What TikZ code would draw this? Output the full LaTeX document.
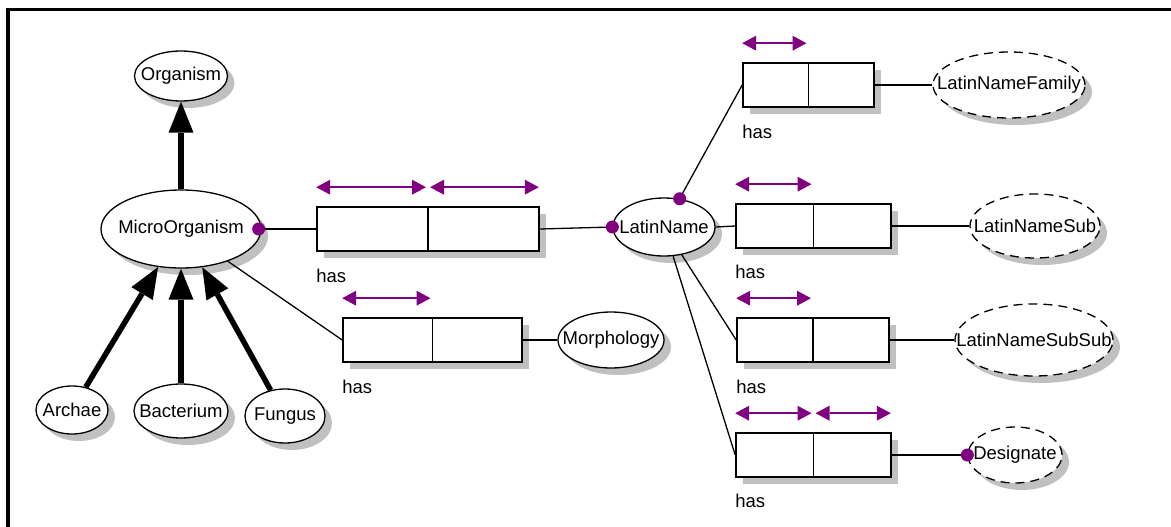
\documentclass[tikz,border=0pt]{standalone}
\usepackage{fontspec}
\setmainfont{Liberation Sans}
\usetikzlibrary{arrows.meta,shapes.geometric,shadows}
\definecolor{rolepurple}{HTML}{800080}
\definecolor{shadowgray}{HTML}{C0C0C0}
\begin{document}
\begin{tikzpicture}[x=1pt,y=-1pt,
  castshadow/.style={drop shadow={shadow xshift=7pt,shadow yshift=-7pt,fill=shadowgray,opacity=1}},
  entity/.style={ellipse,draw,line width=1.3pt,fill=white,inner sep=0pt,castshadow},
  valuetype/.style={entity,dash pattern=on 9pt off 6pt},
  rolebox/.style={rectangle,draw,line width=1.6pt,fill=white,inner sep=0pt,minimum height=44pt,castshadow},
  txt/.style={inner sep=0pt,font=\fontsize{18.5}{21}\selectfont},
  link/.style={line width=1.3pt},
  isa/.style={line width=5.5pt,-{Triangle[length=31pt,width=25pt,line width=0pt]}},
  rolespan/.style={rolepurple,line width=2pt,{Triangle[length=14pt,width=15pt,line width=0pt]}-{Triangle[length=14pt,width=15pt,line width=0pt]}},
  roledot/.style={circle,fill=rolepurple,inner sep=0pt,minimum size=13pt}
]
\useasboundingbox (0,0) rectangle (1171,527);

% window frame
\draw[line width=3.4pt] (8,527) -- (8,9.8) -- (1171,9.8);

% entity types
\node[entity,minimum width=93pt,minimum height=50pt] (org) at (181,76) {};
\node[entity,minimum width=160pt,minimum height=78pt] (micro) at (181,229) {};
\node[entity,minimum width=72pt,minimum height=48pt] (arch) at (72,410) {};
\node[entity,minimum width=94pt,minimum height=54pt] (bact) at (181,411) {};
\node[entity,minimum width=80pt,minimum height=54pt] (fung) at (285,416) {};
\node[entity,minimum width=106pt,minimum height=56pt] (morph) at (611,340) {};
\node[entity,minimum width=102pt,minimum height=58pt] (latin) at (664,227) {};

% value types
\node[valuetype,minimum width=152pt,minimum height=66pt] (fam) at (1009,85) {};
\node[valuetype,minimum width=130pt,minimum height=64pt] (sub) at (1035,226) {};
\node[valuetype,minimum width=158pt,minimum height=72pt] (subsub) at (1034,340) {};
\node[valuetype,minimum width=94pt,minimum height=56pt] (desig) at (1015,455) {};

% fact type boxes
\node[rolebox,minimum width=222pt] (b1) at (428,229) {};
\node[rolebox,minimum width=179pt] (b2) at (432.5,340) {};
\node[rolebox,minimum width=131pt] (b3) at (808.5,85) {};
\node[rolebox,minimum width=155pt] (b4) at (813.5,226) {};
\node[rolebox,minimum width=152pt] (b5) at (813,340) {};
\node[rolebox,minimum width=155pt] (b6) at (813.5,455) {};
\foreach \b in {b1,b2,b3,b4,b5,b6}
  \draw[line width=1.8pt] (\b.north) -- (\b.south);

% uniqueness constraints
\draw[rolespan] ([yshift=19pt]b1.north west) -- ([yshift=19pt,xshift=-2pt]b1.north);
\draw[rolespan] ([yshift=19pt,xshift=2pt]b1.north) -- ([yshift=19pt,xshift=-1pt]b1.north east);
\foreach \b in {b2,b3,b4,b5}
  \draw[rolespan] ([yshift=19pt]\b.north west) -- ([yshift=19pt,xshift=-2pt]\b.north);
\draw[rolespan] ([yshift=19pt]b6.north west) -- ([yshift=19pt,xshift=-2pt]b6.north);
\draw[rolespan] ([yshift=19pt,xshift=2pt]b6.north) -- ([yshift=19pt,xshift=-1pt]b6.north east);

% role connectors
\draw[link] (micro.east) -- (b1.west);
\draw[link] (b1.east) -- (latin.west);
\draw[link] (micro) -- (b2.west);
\draw[link] (b2.east) -- (morph.west);
\draw[link] (latin) -- (b3.west);
\draw[link] (latin.east) -- (b4.west);
\draw[link] (latin) -- (b5.west);
\draw[link] (latin) -- (b6.west);
\draw[link] (b3.east) -- (fam.west);
\draw[link] (b4.east) -- (sub.west);
\draw[link] (b5.east) -- (subsub.west);
\draw[link] (b6.east) -- (desig.west);

% mandatory role dots
\node[roledot] (d1) at ([xshift=-3pt]micro.east) {};
\node[roledot] (d2) at (latin.west) {};
\node[roledot] (d3) at (latin.61) {};
\node[roledot] (d4) at (desig.west) {};

% subtype arrows
\draw[isa] (micro) -- (org);
\draw[isa] (arch) -- (micro);
\draw[isa] (bact) -- (micro);
\draw[isa] (fung) -- (micro);

% names
\node[txt] (orgT) at (org) {Organism};
\node[txt] (microT) at (micro) {MicroOrganism};
\node[txt] (archT) at (arch) {Archae};
\node[txt] (bactT) at (bact) {Bacterium};
\node[txt] (fungT) at (fung) {Fungus};
\node[txt] (morphT) at (morph) {Morphology};
\node[txt] (latinT) at (latin) {LatinName};
\node[txt] (famT) at (fam) {LatinNameFamily};
\node[txt] (subT) at (sub) {LatinNameSub};
\node[txt] (subsubT) at (subsub) {LatinNameSubSub};
\node[txt] (desigT) at (desig) {Designate};

% fact type readings
\node[txt,anchor=west] (h1) at ([yshift=-24pt]b1.south west) {has};
\node[txt,anchor=west] (h2) at ([yshift=-24pt]b2.south west) {has};
\node[txt,anchor=west] (h3) at ([yshift=-24pt]b3.south west) {has};
\node[txt,anchor=west] (h4) at ([yshift=-23pt]b4.south west) {has};
\node[txt,anchor=west] (h5) at ([yshift=-24pt]b5.south west) {has};
\node[txt,anchor=west] (h6) at ([yshift=-23pt]b6.south west) {has};
\end{tikzpicture}
\end{document}
